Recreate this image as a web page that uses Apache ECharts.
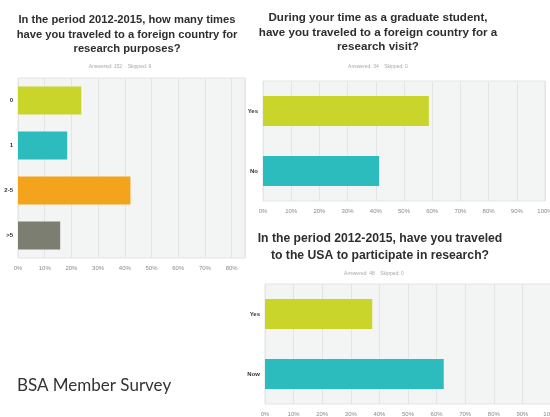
<!DOCTYPE html>
<html><head><meta charset="utf-8">
<script src="https://cdn.jsdelivr.net/npm/echarts@6/dist/echarts.min.js"></script>
<style>html,body{margin:0;padding:0;background:#fff}#c{width:550px;height:417px}</style>
</head><body><div id="c"></div>
<script>
// Chart 1: trips abroad 2012-2015
const cats1 = ['0', '1', '2-5', '>5'];
const vals1 = [23.68, 18.42, 42.11, 15.79];
const colors1 = ['#c9d52b', '#2cbcbd', '#f3a41c', '#7d7e72'];
// Chart 2: graduate student research visit
const cats2 = ['Yes', 'No'];
const vals2 = [58.82, 41.18];
// Chart 3: USA research travel
const cats3 = ['Yes', 'Now'];
const vals3 = [37.5, 62.5];
const colors23 = ['#c9d52b', '#2cbcbd'];

const titles = [
  { text: 'In the period 2012-2015, how many times\nhave you traveled to a foreign country for\nresearch purposes?', x: 122, y: 8, size: 11.2, lh: 14.5 },
  { text: 'During your time as a graduate student,\nhave you traveled to a foreign country for a\nresearch visit?', x: 373, y: 6, size: 11.6, lh: 14.5 },
  { text: 'In the period 2012-2015, have you traveled\nto the USA to participate in research?', x: 375, y: 225, size: 12.2, lh: 17 }
];
const answered = [
  { text: 'Answered: 152    Skipped: 9', x: 115, y: 59 },
  { text: 'Answered: 34    Skipped: 0', x: 373, y: 59 },
  { text: 'Answered: 48    Skipped: 0', x: 369, y: 266 }
];

const chart = echarts.init(document.getElementById('c'));
const gridStyle = { show: true, backgroundColor: '#f3f4f4', borderColor: '#e3e5e5', borderWidth: 1, outerBoundsMode: 'none', containLabel: false };
const grids = [
  Object.assign({ left: 18, top: 78, width: 227, height: 180 }, gridStyle),
  Object.assign({ left: 263, top: 81, width: 282, height: 120 }, gridStyle),
  Object.assign({ left: 265, top: 284, width: 286, height: 120 }, gridStyle)
];
function xAx(i, max) {
  return {
    type: 'value', gridIndex: i, min: 0, max: max, interval: 10,
    axisLine: { show: false }, axisTick: { show: false },
    splitLine: { show: true, lineStyle: { color: '#e4e6e6', width: 1 } },
    axisLabel: {
      fontSize: 6, color: '#8a8a8a', margin: 7, showMaxLabel: max === 100,
      formatter: v => (v % 10 === 0 ? v + '%' : '')
    }
  };
}
function yAx(i, cats) {
  return {
    type: 'category', gridIndex: i, data: cats, inverse: true,
    axisLine: { show: false }, axisTick: { show: false },
    axisLabel: { fontSize: 6, fontWeight: 'bold', color: '#333', margin: 5 }
  };
}
function bar(i, vals, cols, w) {
  return {
    type: 'bar', xAxisIndex: i, yAxisIndex: i, barWidth: w,
    data: vals.map((v, k) => ({ value: v, itemStyle: { color: cols[k] } })),
    silent: true, animation: false
  };
}
const titleList = [];
titles.forEach(t => titleList.push({
  text: t.text, left: t.x, top: t.y, textAlign: 'center',
  textStyle: { fontSize: t.size, fontWeight: 'bold', color: '#2e2e2e', lineHeight: t.lh, fontFamily: 'Liberation Sans' }
}));
answered.forEach(t => titleList.push({
  text: t.text, left: t.x, top: t.y, textAlign: 'center',
  textStyle: { fontSize: 5, fontWeight: 'normal', color: '#a9a9a9' }
}));
titleList.push({
  text: 'BSA Member Survey', left: 12, top: 372,
  textStyle: { fontSize: 17, fontWeight: 'normal', color: '#333', fontFamily: 'Lato' }
});

chart.setOption({
  animation: false,
  backgroundColor: '#ffffff',
  title: titleList,
  grid: grids,
  xAxis: [xAx(0, 85), xAx(1, 100), xAx(2, 100)],
  yAxis: [yAx(0, cats1), yAx(1, cats2), yAx(2, cats3)],
  series: [bar(0, vals1, colors1, 28), bar(1, vals2, colors23, 30), bar(2, vals3, colors23, 30)]
});
</script></body></html>
